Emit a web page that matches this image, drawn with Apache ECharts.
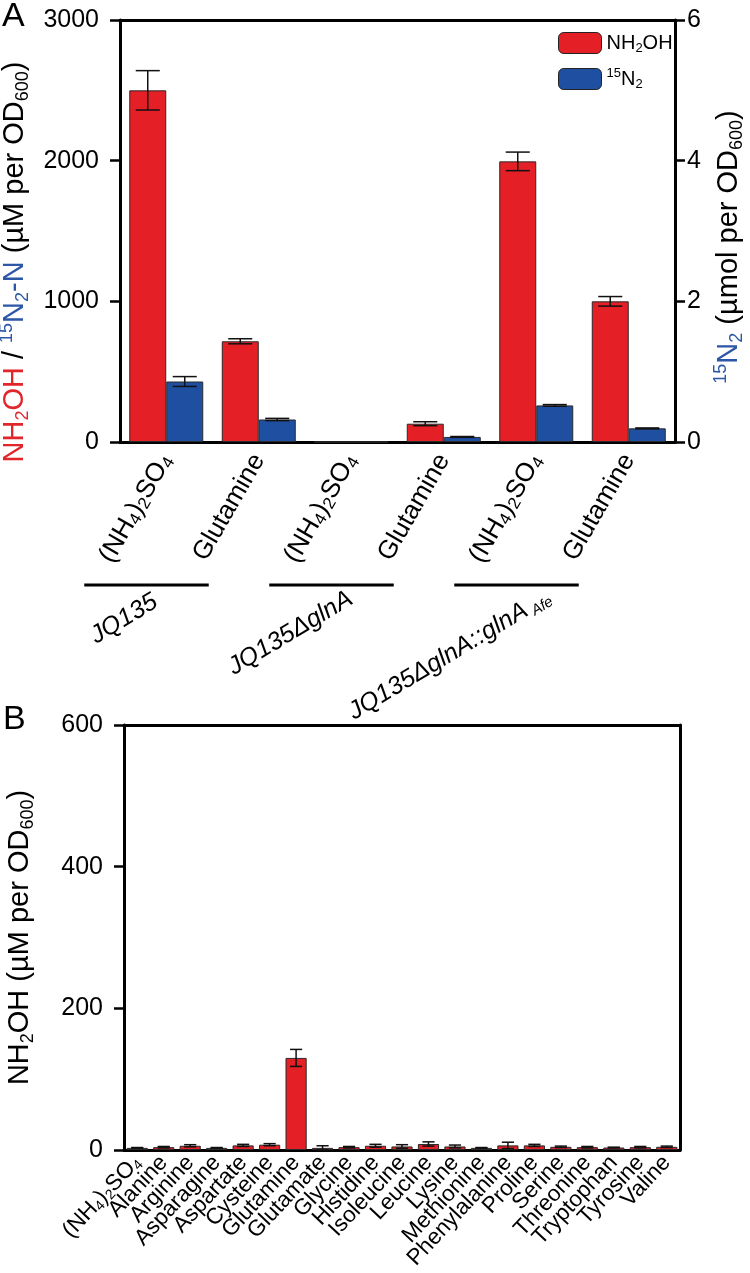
<!DOCTYPE html>
<html>
<head>
<meta charset="utf-8">
<script src="https://cdn.jsdelivr.net/npm/echarts@6/dist/echarts.min.js"></script>
<style>
html,body{margin:0;padding:0;background:#fff;}
#chart{width:750px;height:1273px;}
</style>
</head>
<body>
<div id="chart"></div>
<script>
// ---------- DATA ----------
const categoriesA = ['(NH4)2SO4', 'Glutamine', '(NH4)2SO4', 'Glutamine', '(NH4)2SO4', 'Glutamine'];
const nh2ohA = [2500, 716, 0, 130, 1995, 1000];          // µM per OD600
const nh2ohErrA = [140, 18, 0, 14, 66, 34];
const n2A = [0.86, 0.32, 0, 0.072, 0.52, 0.194];           // µmol per OD600
const n2ErrA = [0.07, 0.016, 0, 0.006, 0.012, 0.006];
const strainsA = ['JQ135', 'JQ135ΔglnA', 'JQ135ΔglnA::glnA'];
const strainSubA = ['', '', 'Afe'];
const leftTicksA = [0, 1000, 2000, 3000];
const rightTicksA = [0, 2, 4, 6];

const categoriesB = ['(NH4)2SO4', 'Alanine', 'Arginine', 'Asparagine', 'Aspartate', 'Cysteine', 'Glutamine',
  'Glutamate', 'Glycine', 'Histidine', 'Isoleucine', 'Leucine', 'Lysine', 'Methionine', 'Phenylalanine',
  'Proline', 'Serine', 'Threonine', 'Tryptophan', 'Tyrosine', 'Valine'];
const nh2ohB = [3, 4, 6, 3, 6.5, 7.5, 130, 3, 4, 6, 5, 8.5, 5, 3, 6.5, 6.5, 4.5, 4, 3.5, 4, 4.5];
const nh2ohErrB = [0.5, 1, 1.5, 0.5, 1.5, 1.5, 12, 3, 1, 2, 2.5, 3, 2, 0.5, 4.5, 1.5, 1, 1, 0.5, 1, 1];
const ticksB = [0, 200, 400, 600];

// ---------- STYLE ----------
const RED = '#E41F26', BLUE = '#1F4FA0';
const TRED = '#E2242B', TBLUE = '#2C56A6';
const FONT = 'Liberation Sans, Arial, Helvetica, sans-serif';
const TFS = 29, TFS_S = 18;

function chemRich(s) {
  if (s === '(NH4)2SO4') return '{n|(NH}{s|4}{n|)}{s|2}{n|SO}{s|4}';
  return '{n|' + s + '}';
}
const labelRichA = {
  n: {fontSize: 26, lineHeight: 28, fontFamily: FONT, color: '#000'},
  s: {fontSize: 17, lineHeight: 14, verticalAlign: 'bottom', fontFamily: FONT, color: '#000'}
};
const labelRichB = {
  n: {fontSize: 22.5, lineHeight: 24, fontFamily: FONT, color: '#000'},
  s: {fontSize: 14, lineHeight: 12, verticalAlign: 'bottom', fontFamily: FONT, color: '#000'}
};
function titleRich() {
  const mk = (c, small, va) => ({fontSize: small ? TFS_S : TFS, color: c, fontFamily: FONT,
    lineHeight: small ? TFS_S : 34, verticalAlign: va || 'middle'});
  return {
    r: mk(TRED), rs: mk(TRED, true, 'bottom'),
    b: mk(TBLUE), bp: mk(TBLUE, true, 'top'), bs: mk(TBLUE, true, 'bottom'),
    k: mk('#000'), ks: mk('#000', true, 'bottom')
  };
}

function errItem(offsetFrac, capFrac) {
  return function (params, api) {
    const cat = api.value(0), v = api.value(1), e = api.value(2);
    if (!e) return null;
    const bw = api.size([1, 0])[0];
    const xc = api.coord([cat, v])[0] + offsetFrac * bw;
    const yT = api.coord([cat, v + e])[1];
    const yB = api.coord([cat, v - e])[1];
    const hw = capFrac * bw;
    const st = {stroke: '#111', lineWidth: 1.5};
    return {type: 'group', children: [
      {type: 'line', shape: {x1: xc, y1: yT, x2: xc, y2: yB}, style: st},
      {type: 'line', shape: {x1: xc - hw, y1: yT, x2: xc + hw, y2: yT}, style: st},
      {type: 'line', shape: {x1: xc - hw, y1: yB, x2: xc + hw, y2: yB}, style: st}
    ]};
  };
}

const axisLineStyle = {color: '#000', width: 3};
const tickStyle = {color: '#000', width: 2.5};
const plainNum = function (v) { return String(v); };

const chart = echarts.init(document.getElementById('chart'), null, {renderer: 'canvas'});

const option = {
  backgroundColor: '#fff',
  animation: false,
  grid: [
    {left: 120, right: 75, top: 20, bottom: 831, outerBoundsMode: 'none'},
    {left: 124, right: 70, top: 725, bottom: 123, outerBoundsMode: 'none'}
  ],
  legend: {
    data: ['NH2OH', '15N2'],
    orient: 'vertical',
    left: 553, top: 27,
    itemWidth: 43, itemHeight: 21, itemGap: 12,
    selectedMode: false,
    itemStyle: {borderColor: '#222', borderWidth: 1},
    formatter: function (n) {
      return n === 'NH2OH' ? '{n|NH}{s|2}{n|OH}' : '{p|15}{n|N}{s|2}';
    },
    textStyle: {
      rich: {
        n: {fontSize: 20, lineHeight: 24, fontFamily: FONT, color: '#000'},
        s: {fontSize: 13, lineHeight: 12, verticalAlign: 'bottom', fontFamily: FONT, color: '#000'},
        p: {fontSize: 13, lineHeight: 14, verticalAlign: 'top', fontFamily: FONT, color: '#000'}
      }
    }
  },
  xAxis: [
    {
      gridIndex: 0, type: 'category', data: categoriesA, position: 'bottom',
      axisLine: {onZero: false, lineStyle: axisLineStyle},
      axisTick: {alignWithLabel: true, length: 10, lineStyle: tickStyle},
      axisLabel: {rotate: 60, margin: 14, interval: 0, formatter: chemRich, rich: labelRichA}
    },
    {
      gridIndex: 0, type: 'category', data: categoriesA, position: 'top',
      axisLine: {show: true, onZero: false, lineStyle: axisLineStyle}, axisTick: {show: false}, axisLabel: {show: false}
    },
    {
      gridIndex: 1, type: 'category', data: categoriesB, position: 'bottom',
      axisLine: {onZero: false, lineStyle: axisLineStyle},
      axisTick: {alignWithLabel: true, length: 10, lineStyle: tickStyle},
      axisLabel: {rotate: 47, margin: 9, interval: 0, formatter: chemRich, rich: labelRichB}
    },
    {
      gridIndex: 1, type: 'category', data: categoriesB, position: 'top',
      axisLine: {show: true, onZero: false, lineStyle: axisLineStyle}, axisTick: {show: false}, axisLabel: {show: false}
    }
  ],
  yAxis: [
    {
      gridIndex: 0, type: 'value', position: 'left',
      min: leftTicksA[0], max: leftTicksA[leftTicksA.length - 1], interval: leftTicksA[1] - leftTicksA[0],
      splitLine: {show: false},
      axisLine: {show: true, onZero: false, lineStyle: axisLineStyle},
      axisTick: {show: true, length: 10, lineStyle: tickStyle},
      axisLabel: {fontSize: 25, color: '#000', margin: 21, fontFamily: FONT, formatter: plainNum},
      name: '{r|NH}{rs|2}{r|OH}{k| / }{bp|15}{b|N}{bs|2}{b|-N}{k| (µM per OD}{ks|600}{k|)}',
      nameLocation: 'middle', nameRotate: 90, nameGap: 87,
      nameTextStyle: {padding: [0, 62, 0, 0], rich: titleRich()}
    },
    {
      gridIndex: 0, type: 'value', position: 'right',
      min: rightTicksA[0], max: rightTicksA[rightTicksA.length - 1], interval: rightTicksA[1] - rightTicksA[0],
      splitLine: {show: false},
      axisLine: {show: true, onZero: false, lineStyle: axisLineStyle},
      axisTick: {show: true, length: 10, lineStyle: tickStyle},
      axisLabel: {fontSize: 25, color: '#000', margin: 12, fontFamily: FONT, formatter: plainNum},
      name: '{bp|15}{b|N}{bs|2}{k| (µmol per OD}{ks|600}{k|)}',
      nameLocation: 'middle', nameRotate: 90, nameGap: 29,
      nameTextStyle: {padding: [0, 32, 0, 0], rich: titleRich()}
    },
    {
      gridIndex: 1, type: 'value', position: 'left',
      min: ticksB[0], max: ticksB[ticksB.length - 1], interval: ticksB[1] - ticksB[0],
      splitLine: {show: false},
      axisLine: {show: true, onZero: false, lineStyle: axisLineStyle},
      axisTick: {show: true, length: 10, lineStyle: tickStyle},
      axisLabel: {fontSize: 25, color: '#000', margin: 21, fontFamily: FONT, formatter: plainNum},
      name: '{k|NH}{ks|2}{k|OH (µM per OD}{ks|600}{k|)}',
      nameLocation: 'middle', nameRotate: 90, nameGap: 87,
      nameTextStyle: {rich: titleRich()}
    },
    {
      gridIndex: 1, type: 'value', position: 'right',
      min: ticksB[0], max: ticksB[ticksB.length - 1], interval: ticksB[1] - ticksB[0],
      splitLine: {show: false},
      axisLine: {show: true, onZero: false, lineStyle: axisLineStyle},
      axisTick: {show: false}, axisLabel: {show: false}
    }
  ],
  series: [
    {
      name: 'NH2OH', type: 'bar', xAxisIndex: 0, yAxisIndex: 0, data: nh2ohA,
      barGap: '0%', barCategoryGap: '20%',
      itemStyle: {color: RED, borderColor: '#2a2a2a', borderWidth: 1}
    },
    {
      name: '15N2', type: 'bar', xAxisIndex: 0, yAxisIndex: 1, data: n2A,
      barGap: '0%', barCategoryGap: '20%',
      itemStyle: {color: BLUE, borderColor: '#2a2a2a', borderWidth: 1}
    },
    {
      type: 'custom', xAxisIndex: 0, yAxisIndex: 0, z: 5,
      renderItem: errItem(-0.2, 0.13),
      data: nh2ohA.map((v, i) => [i, v, nh2ohErrA[i]])
    },
    {
      type: 'custom', xAxisIndex: 0, yAxisIndex: 1, z: 5,
      renderItem: errItem(0.2, 0.13),
      data: n2A.map((v, i) => [i, v, n2ErrA[i]])
    },
    {
      name: 'NH2OH B', type: 'bar', xAxisIndex: 2, yAxisIndex: 2, data: nh2ohB,
      barCategoryGap: '20%',
      itemStyle: {color: RED, borderColor: '#2a2a2a', borderWidth: 1}
    },
    {
      type: 'custom', xAxisIndex: 2, yAxisIndex: 2, z: 5,
      renderItem: errItem(0, 0.23),
      data: nh2ohB.map((v, i) => [i, v, nh2ohErrB[i]])
    }
  ]
};
chart.setOption(option);

// ---------- annotations (panel letters, strain brackets) ----------
function px(i) { return chart.convertToPixel({xAxisIndex: 0}, i); }
const baseY = chart.convertToPixel({yAxisIndex: 0}, 0);
const bracketY = baseY + 143;
const labelOffsets = [2, 12, 25];
const labelDy = [3, 0, -2];
const graphics = [
  {type: 'text', x: 2, y: 0, style: {text: 'A', fontSize: 34, fontFamily: FONT, fill: '#000'}},
  {type: 'text', x: 3, y: 703, style: {text: 'B', fontSize: 34, fontFamily: FONT, fill: '#000'}}
];
strainsA.forEach(function (name, k) {
  const x1 = px(2 * k) - 82, x2 = px(2 * k + 1) - 50;
  graphics.push({type: 'line', shape: {x1: x1, y1: bracketY, x2: x2, y2: bracketY},
    style: {stroke: '#000', lineWidth: 3}});
  const cx = (x1 + x2) / 2;
  const txt = strainSubA[k] ? '{i|' + name + '}{s| ' + strainSubA[k] + '}' : '{i|' + name + '}';
  graphics.push({
    type: 'text', x: cx + labelOffsets[k], y: bracketY + labelDy[k], rotation: 31 * Math.PI / 180,
    style: {
      text: txt, align: 'right', verticalAlign: 'top',
      rich: {
        i: {fontSize: 25, fontStyle: 'italic', fontFamily: FONT, fill: '#000', lineHeight: 28},
        s: {fontSize: 15, fontStyle: 'italic', fontFamily: FONT, fill: '#000', lineHeight: 12, verticalAlign: 'bottom'}
      }
    }
  });
});
chart.setOption({graphic: graphics});
</script>
</body>
</html>
